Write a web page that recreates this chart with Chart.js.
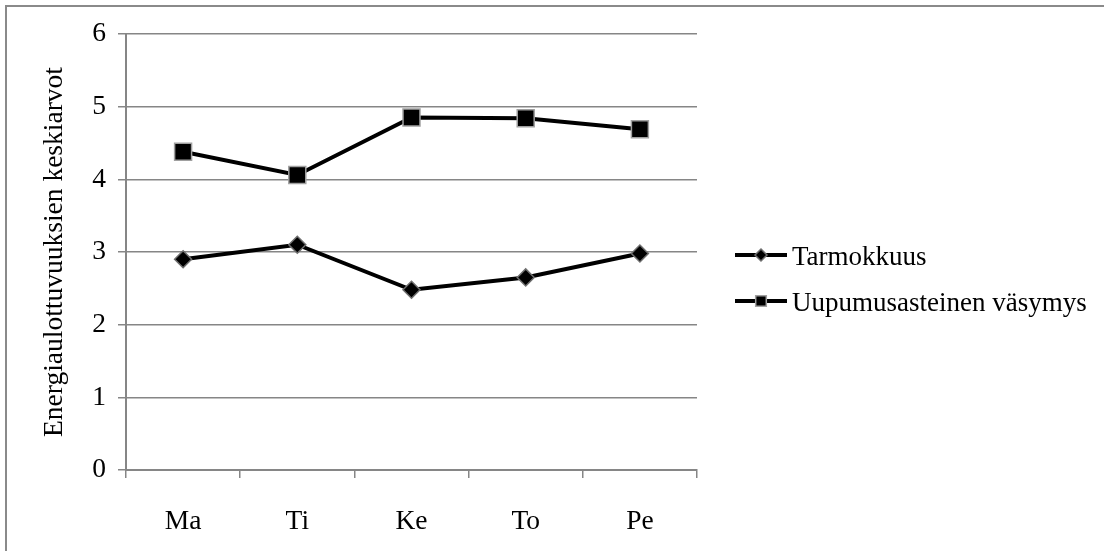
<!DOCTYPE html>
<html>
<head>
<meta charset="utf-8">
<script src="https://cdn.jsdelivr.net/npm/chart.js@4/dist/chart.umd.min.js"></script>
<style>
  html, body { margin: 0; padding: 0; background: #fff; }
  #wrap { position: relative; width: 1104px; height: 551px; }
</style>
</head>
<body>
<div id="wrap"><canvas id="c" width="1104" height="551"></canvas></div>
<script>
// Weekday averages of the two energy dimensions
const days = ['Ma', 'Ti', 'Ke', 'To', 'Pe'];
const tarmokkuus = [2.90, 3.10, 2.48, 2.65, 2.98];
const vasymys = [4.38, 4.06, 4.85, 4.84, 4.69];
const seriesNames = ['Tarmokkuus', 'Uupumusasteinen väsymys'];
const yTicks = [0, 1, 2, 3, 4, 5, 6];
const yTitle = 'Energiaulottuvuuksien keskiarvot';

const FONT = '"Liberation Serif", "Times New Roman", serif';
const GRID = '#868686';

// Thin grey frame around the whole figure
const frame = {
  id: 'frame',
  beforeDraw(chart) {
    const ctx = chart.ctx;
    ctx.save();
    ctx.strokeStyle = '#8a8a8a';
    ctx.lineWidth = 2;
    ctx.strokeRect(6, 6, chart.width + 20, chart.height + 20);
    ctx.restore();
  }
};

// Legend on the right: short line with the series marker, then the name
const sideLegend = {
  id: 'sideLegend',
  afterDraw(chart) {
    const ctx = chart.ctx;
    const rows = [255, 301];
    const markerR = [6, 7.5];
    chart.data.datasets.forEach((ds, i) => {
      const y = rows[i];
      ctx.save();
      ctx.strokeStyle = ds.borderColor;
      ctx.lineWidth = ds.borderWidth;
      ctx.beginPath();
      ctx.moveTo(735, y);
      ctx.lineTo(787, y);
      ctx.stroke();
      ctx.fillStyle = ds.pointBackgroundColor;
      ctx.strokeStyle = ds.pointBorderColor;
      ctx.lineWidth = ds.pointBorderWidth;
      if (Chart.helpers && Chart.helpers.drawPoint) {
        Chart.helpers.drawPoint(ctx, {
          pointStyle: ds.pointStyle, radius: markerR[i], rotation: 0, borderWidth: ds.pointBorderWidth
        }, 761, y);
      }
      ctx.fillStyle = '#000';
      ctx.font = '27px ' + FONT;
      ctx.textBaseline = 'middle';
      ctx.textAlign = 'left';
      ctx.fillText(ds.label, 792, y + 3);
      ctx.restore();
    });
  }
};

new Chart(document.getElementById('c'), {
  type: 'line',
  data: {
    labels: days,
    datasets: [
      {
        label: seriesNames[0],
        data: tarmokkuus,
        borderColor: '#000',
        borderWidth: 4,
        pointStyle: 'rectRot',
        pointRadius: 8.5,
        pointBackgroundColor: '#000',
        pointBorderColor: '#6e6e6e',
        pointBorderWidth: 1.5,
        tension: 0,
        fill: false
      },
      {
        label: seriesNames[1],
        data: vasymys,
        borderColor: '#000',
        borderWidth: 4,
        pointStyle: 'rect',
        pointRadius: 12,
        pointBackgroundColor: '#000',
        pointBorderColor: '#a0a0a0',
        pointBorderWidth: 1.5,
        tension: 0,
        fill: false
      }
    ]
  },
  options: {
    responsive: false,
    animation: false,
    devicePixelRatio: 1,
    layout: { padding: { top: 34, right: 407, bottom: 0, left: 0 } },
    plugins: {
      legend: { display: false },
      tooltip: { enabled: false }
    },
    scales: {
      x: {
        type: 'category',
        offset: true,
        afterFit(scale) { scale.height = 81; },
        grid: {
          offset: true,
          drawOnChartArea: false,
          drawTicks: true,
          tickLength: 8,
          color: GRID,
          lineWidth: 1.5
        },
        border: { display: true, color: GRID, width: 2 },
        ticks: {
          color: '#000',
          padding: 27,
          font: { family: FONT, size: 27.5 },
          maxRotation: 0
        }
      },
      y: {
        min: 0,
        max: 6,
        afterFit(scale) { scale.width = 126; },
        afterBuildTicks(scale) { scale.ticks = yTicks.map(v => ({ value: v })); },
        grid: {
          drawTicks: true,
          tickLength: 8,
          color: GRID,
          lineWidth: 1.5
        },
        border: { display: true, color: GRID, width: 2 },
        ticks: {
          color: '#000',
          padding: 12,
          font: { family: FONT, size: 27.5 }
        },
        title: {
          display: true,
          text: yTitle,
          color: '#000',
          font: { family: FONT, size: 27.5 },
          padding: { top: 38, bottom: 0 }
        }
      }
    }
  },
  plugins: [frame, sideLegend]
});
</script>
</body>
</html>
